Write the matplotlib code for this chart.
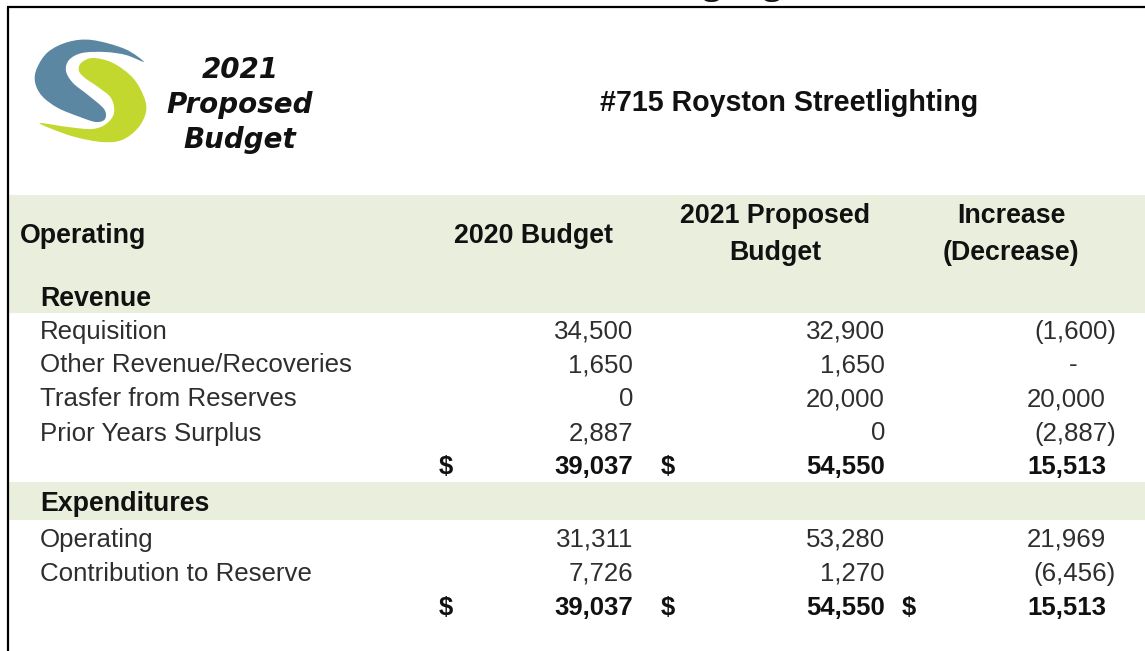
import matplotlib
matplotlib.use("Agg")
from matplotlib import pyplot as plt
from matplotlib.path import Path
from matplotlib.patches import PathPatch, Rectangle

# table content
title = "#715 Royston Streetlighting"
logo_lines = ["2021", "Proposed", "Budget"]
col_headers = ["2020 Budget", "2021 Proposed\nBudget", "Increase\n(Decrease)"]

revenue_labels = ["Requisition", "Other Revenue/Recoveries",
                  "Trasfer from Reserves", "Prior Years Surplus"]
revenue_2020 = [34500, 1650, 0, 2887]
revenue_2021 = [32900, 1650, 20000, 0]
revenue_change = [-1600, 0, 20000, -2887]
revenue_totals = [39037, 54550, 15513]

expend_labels = ["Operating", "Contribution to Reserve"]
expend_2020 = [31311, 7726]
expend_2021 = [53280, 1270]
expend_change = [21969, -6456]
expend_totals = [39037, 54550, 15513]

W, H = 1145, 651
BAND = "#eaefdd"
DARK = "#111111"
GREY = "#2e2e2e"
SANS = "Liberation Sans"

fig = plt.figure(figsize=(W / 100, H / 100), dpi=100)
ax = fig.add_axes([0, 0, 1, 1])
ax.set_xlim(0, W)
ax.set_ylim(H, 0)
ax.axis("off")

# cut-off heading of the page above
ax.text(663, -6, "Highlights", family="Liberation Serif", weight="bold",
        fontsize=27, ha="left", va="baseline", color=DARK)

# frame
ax.plot([7, W], [7, 7], color="black", lw=1.6, solid_capstyle="butt")
ax.plot([8, 8], [7, H], color="black", lw=1.6, solid_capstyle="butt")


def smooth_closed(pts):
    # closed Catmull-Rom curve through the outline points
    n = len(pts)
    verts = [pts[0]]
    codes = [Path.MOVETO]
    for i in range(n):
        p0, p1 = pts[i - 1], pts[i]
        p2, p3 = pts[(i + 1) % n], pts[(i + 2) % n]
        c1 = (p1[0] + (p2[0] - p0[0]) / 6, p1[1] + (p2[1] - p0[1]) / 6)
        c2 = (p2[0] - (p3[0] - p1[0]) / 6, p2[1] - (p3[1] - p1[1]) / 6)
        verts += [c1, c2, p2]
        codes += [Path.CURVE4] * 3
    return Path(verts, codes)


blue_outline = [(144, 62), (125, 49), (92, 40), (68, 42), (48, 52), (37, 68),
                (35, 82), (42, 96), (58, 108), (80, 117), (96, 122),
                (105, 119), (104, 109), (88, 95), (73, 83), (66, 71),
                (69, 60), (82, 53), (105, 52), (126, 55)]
green_outline = [(40, 123), (52, 129), (75, 137), (102, 142), (122, 140),
                 (138, 128), (146, 112), (144, 97), (133, 78), (113, 63),
                 (93, 58), (81, 63), (79, 71), (85, 78), (98, 87), (111, 98),
                 (114, 113), (106, 124), (92, 129), (68, 127)]
ax.add_patch(PathPatch(smooth_closed(blue_outline), facecolor="#5b87a2",
                       edgecolor="none"))
ax.add_patch(PathPatch(smooth_closed(green_outline), facecolor="#c2d82e",
                       edgecolor="none"))

for i, line in enumerate(logo_lines):
    ax.text(240, 78 + 35 * i, line, family="DejaVu Sans", weight="bold",
            style="oblique", fontsize=20, ha="center", va="baseline",
            color=DARK)

ax.text(789, 111, title, family=SANS, weight="bold", fontsize=20.6,
        ha="center", va="baseline", color=DARK)

# shaded bands
ax.add_patch(Rectangle((9, 195), W - 9, 118, facecolor=BAND, edgecolor="none"))
ax.add_patch(Rectangle((9, 482), W - 9, 38, facecolor=BAND, edgecolor="none"))

HEAD = dict(family=SANS, weight="bold", fontsize=19.3, color=DARK,
            va="baseline", linespacing=1.55)
BOLD = dict(family=SANS, weight="bold", fontsize=18.5, color=DARK,
            va="baseline")
REG = dict(family=SANS, fontsize=18.6, color=GREY, va="baseline")

ax.text(20, 243, "Operating", ha="left", **HEAD)
ax.text(533, 243, col_headers[0], ha="center", **HEAD)
ax.text(775, 260, col_headers[1], ha="center", **HEAD)
ax.text(1011, 260, col_headers[2], ha="center", **HEAD)

col_right = [633, 885, 1106]
dollar_x = [446, 668, 909]


def fmt(v, dash_zero=False):
    if v == 0 and dash_zero:
        return "-"
    if v < 0:
        return f"({-v:,})"
    return f"{v:,}"


def put_value(x, y, v, change, style):
    s = fmt(v, dash_zero=change)
    if s == "-":
        ax.text(1073, y, s, ha="center", **style)
    elif v < 0:
        ax.text(x + 10, y, s, ha="right", **style)
    else:
        ax.text(x, y, s, ha="right", **style)


def section(name, y_head, y0, labels, a, b, c, totals, dollars, step=34):
    ax.text(40, y_head, name, ha="left", **HEAD)
    for i, lab in enumerate(labels):
        y = y0 + step * i
        ax.text(40, y, lab, ha="left", **REG)
        put_value(col_right[0], y, a[i], False, REG)
        put_value(col_right[1], y, b[i], False, REG)
        put_value(col_right[2], y, c[i], True, REG)
    y = y0 + step * len(labels)
    for j, t in enumerate(totals):
        put_value(col_right[j], y, t, False, BOLD)
    for j in dollars:
        ax.text(dollar_x[j], y, "$", ha="center", **BOLD)


section("Revenue", 306, 338.5, revenue_labels, revenue_2020, revenue_2021,
        revenue_change, revenue_totals, [0, 1])
section("Expenditures", 511, 547, expend_labels, expend_2020, expend_2021,
        expend_change, expend_totals, [0, 1, 2])

fig.savefig("out.png", dpi=100)
